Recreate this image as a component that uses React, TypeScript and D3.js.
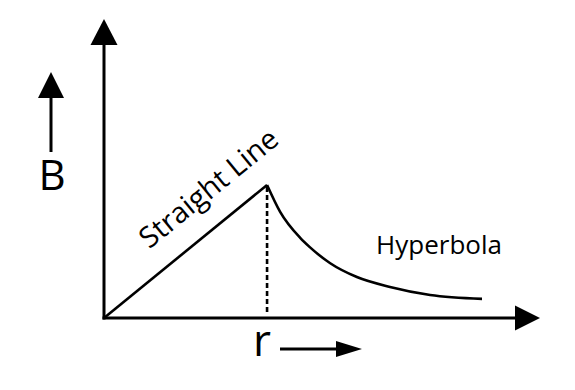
import React from "react";
import * as d3 from "d3";

const W = 575;
const H = 390;

// Axis extents (data units)
const axisMaxR = 10;
const axisMaxB = 10;

// Straight line: origin to peak
const lineR = [0, 3.74];
const lineB = [0, 4.45];

// Hyperbola points
const hypR = [3.74, 4.04, 4.5, 4.72, 5.18, 5.8, 6.56, 7.48, 8.67];
const hypB = [4.45, 3.55, 2.68, 2.37, 1.84, 1.37, 1.04, 0.77, 0.64];

const labelB = "B";
const labelR = "r";
const labelLine = "Straight Line";
const labelHyp = "Hyperbola";

export default function App() {
  const x = d3.scaleLinear().domain([0, axisMaxR]).range([104, 540]);
  const y = d3.scaleLinear().domain([0, axisMaxB]).range([318, 19]);

  const linePts: [number, number][] = lineR.map((r, i) => [x(r), y(lineB[i])]);
  const hypPts: [number, number][] = hypR.map((r, i) => [x(r), y(hypB[i])]);
  const straight = d3.line()(linePts) || "";
  const hyper = d3.line().curve(d3.curveMonotoneX)(hypPts) || "";

  const x0 = x(0);
  const y0 = y(0);
  const peakX = x(lineR[1]);
  const peakY = y(lineB[1]);
  const angle = (Math.atan2(y(lineB[1]) - y(0), x(lineR[1]) - x(0)) * 180) / Math.PI;

  const font = "'Open Sans', 'DejaVu Sans', sans-serif";

  return (
    <svg
      width={W}
      height={H}
      style={{ position: "absolute", left: 0, top: 0, background: "#fff" }}
    >
      <rect width={W} height={H} fill="#fff" />
      {/* y axis */}
      <line x1={x0} y1={y0 + 1.5} x2={x0} y2={y(axisMaxB) + 20} stroke="#000" strokeWidth={3} />
      <polygon
        points={`${x0},${y(axisMaxB)} ${x0 - 13.5},${y(axisMaxB) + 26} ${x0 + 13.5},${y(axisMaxB) + 26}`}
        fill="#000"
      />
      {/* x axis */}
      <line x1={x0 - 1.5} y1={y0} x2={x(axisMaxR) - 20} y2={y0} stroke="#000" strokeWidth={3} />
      <polygon
        points={`${x(axisMaxR)},${y0} ${x(axisMaxR) - 25},${y0 - 12.5} ${x(axisMaxR) - 25},${y0 + 12.5}`}
        fill="#000"
      />
      {/* straight line */}
      <path d={straight} fill="none" stroke="#000" strokeWidth={2.6} />
      {/* hyperbola */}
      <path d={hyper} fill="none" stroke="#000" strokeWidth={2.6} />
      {/* dotted drop line */}
      <line
        x1={peakX}
        y1={peakY + 2}
        x2={peakX}
        y2={y0 - 4}
        stroke="#000"
        strokeWidth={2.6}
        strokeDasharray="5,3"
      />
      {/* B label with arrow */}
      <line x1={51} y1={152} x2={51} y2={92} stroke="#000" strokeWidth={3} />
      <polygon points="51,72 38,98 64,98" fill="#000" />
      <text x={52} y={190} fontFamily={font} fontSize={42} textAnchor="middle" fill="#000">
        {labelB}
      </text>
      {/* r label with arrow */}
      <text x={262} y={356} fontFamily={font} fontSize={44} textAnchor="middle" fill="#000">
        {labelR}
      </text>
      <line x1={280} y1={349} x2={340} y2={349} stroke="#000" strokeWidth={3} />
      <polygon points="362,349 336,341 336,357" fill="#000" />
      {/* Straight Line text */}
      <text
        transform={`translate(215,196) rotate(${angle})`}
        fontFamily={font}
        fontSize={29}
        textAnchor="middle"
        fill="#000"
      >
        {labelLine}
      </text>
      {/* Hyperbola text */}
      <text x={439} y={254} fontFamily={font} fontSize={26} textAnchor="middle" fill="#000">
        {labelHyp}
      </text>
    </svg>
  );
}
